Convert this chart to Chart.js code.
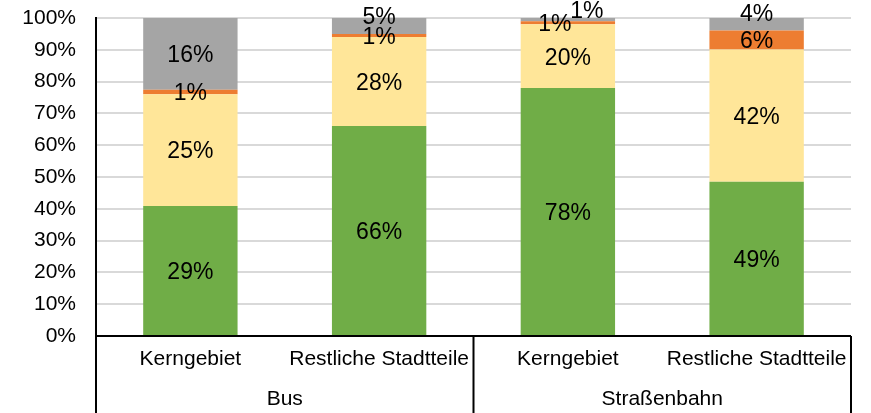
<!DOCTYPE html>
<html><head><meta charset="utf-8">
<script src="https://cdn.jsdelivr.net/npm/chart.js@4/dist/chart.umd.min.js"></script>
<style>html,body{margin:0;padding:0;background:#fff}#wrap{width:871px;height:413px}</style>
</head><body><div id="wrap"><canvas id="c" width="871" height="413"></canvas></div>
<script>
const categories = ["Kerngebiet", "Restliche Stadtteile", "Kerngebiet", "Restliche Stadtteile"];
const groups = ["Bus", "Straßenbahn"];
const seriesNames = ["Grün", "Gelb", "Orange", "Grau"];
const greenValues = [29, 66, 78, 49];
const yellowValues = [25, 28, 20, 42];
const orangeValues = [1, 1, 1, 6];
const grayValues = [16, 5, 1, 4];
const yTickValues = [0, 10, 20, 30, 40, 50, 60, 70, 80, 90, 100];

const FONT = "'Liberation Sans', Arial, sans-serif";
const raw = [greenValues, yellowValues, orangeValues, grayValues];
const colors = ["#70AD47", "#FFE699", "#ED7D31", "#A5A5A5"];
const totals = categories.map((_, i) => raw.reduce((s, arr) => s + arr[i], 0));
const datasets = raw.map((arr, k) => ({
  label: seriesNames[k],
  data: arr.map((v, i) => v / totals[i] * 100),
  rawValues: arr,
  backgroundColor: colors[k],
  borderWidth: 0,
  barPercentage: 0.5,
  categoryPercentage: 1.0
}));

const segLabels = {
  id: 'segLabels',
  afterDatasetsDraw(chart, args, opts) {
    const ctx = chart.ctx;
    ctx.save();
    ctx.font = opts.font;
    ctx.fillStyle = '#000';
    ctx.textAlign = 'center';
    ctx.textBaseline = 'middle';
    chart.data.datasets.forEach((ds, di) => {
      const meta = chart.getDatasetMeta(di);
      meta.data.forEach((el, i) => {
        const nudge = (opts.nudge && opts.nudge[di + '-' + i]) || [0, 0];
        const x = el.x + nudge[0];
        const y = (el.y + el.base) / 2 + nudge[1] + opts.dy;
        ctx.fillText(ds.rawValues[i] + '%', x, y);
      });
    });
    ctx.restore();
  }
};

const groupAxis = {
  id: 'groupAxis',
  afterDraw(chart, args, opts) {
    const ctx = chart.ctx;
    const a = chart.chartArea;
    const xs = chart.scales.x;
    const H = chart.height;
    ctx.save();
    ctx.strokeStyle = '#000';
    ctx.lineWidth = 2;
    ctx.beginPath();
    ctx.moveTo(a.left - 1, a.bottom);
    ctx.lineTo(a.right, a.bottom);
    const mid = (xs.getPixelForValue(1) + xs.getPixelForValue(2)) / 2;
    [a.left, mid, a.right].forEach(x => {
      ctx.moveTo(x, a.bottom);
      ctx.lineTo(x, H);
    });
    ctx.stroke();
    ctx.font = opts.font;
    ctx.fillStyle = '#000';
    ctx.textAlign = 'center';
    ctx.textBaseline = 'middle';
    groups.forEach((g, gi) => {
      const cx = (xs.getPixelForValue(gi * 2) + xs.getPixelForValue(gi * 2 + 1)) / 2;
      ctx.fillText(g, cx, opts.y);
    });
    ctx.restore();
  }
};

new Chart(document.getElementById('c'), {
  type: 'bar',
  data: { labels: categories, datasets },
  plugins: [segLabels, groupAxis],
  options: {
    responsive: false,
    animation: false,
    devicePixelRatio: 1,
    layout: { padding: { left: 0, right: 20, top: 18, bottom: 0 } },
    plugins: {
      legend: { display: false },
      tooltip: { enabled: false },
      segLabels: {
        font: "23px " + FONT,
        dy: 2,
        nudge: { '3-1': [0, -10], '2-2': [-13, 0], '3-2': [19, -10], '3-3': [0, -12] }
      },
      groupAxis: { font: "21px " + FONT, y: 399 }
    },
    scales: {
      x: {
        stacked: true,
        grid: { display: false, drawTicks: false },
        border: { display: false },
        ticks: { color: '#000', font: { family: FONT, size: 21 }, padding: 11, maxRotation: 0, autoSkip: false },
        afterFit(s) { s.height = 77; }
      },
      y: {
        stacked: true,
        min: 0, max: 100,
        afterBuildTicks(s) { s.ticks = yTickValues.map(v => ({ value: v })); },
        grid: { color: '#d9d9d9', lineWidth: 2, drawTicks: true, tickLength: 20, tickColor: 'rgba(0,0,0,0)' },
        border: { display: true, color: '#000', width: 2 },
        ticks: { color: '#000', font: { family: FONT, size: 21 }, padding: 0, callback: v => v + '%' },
        afterFit(s) { s.width = 96; }
      }
    }
  }
});
</script></body></html>
